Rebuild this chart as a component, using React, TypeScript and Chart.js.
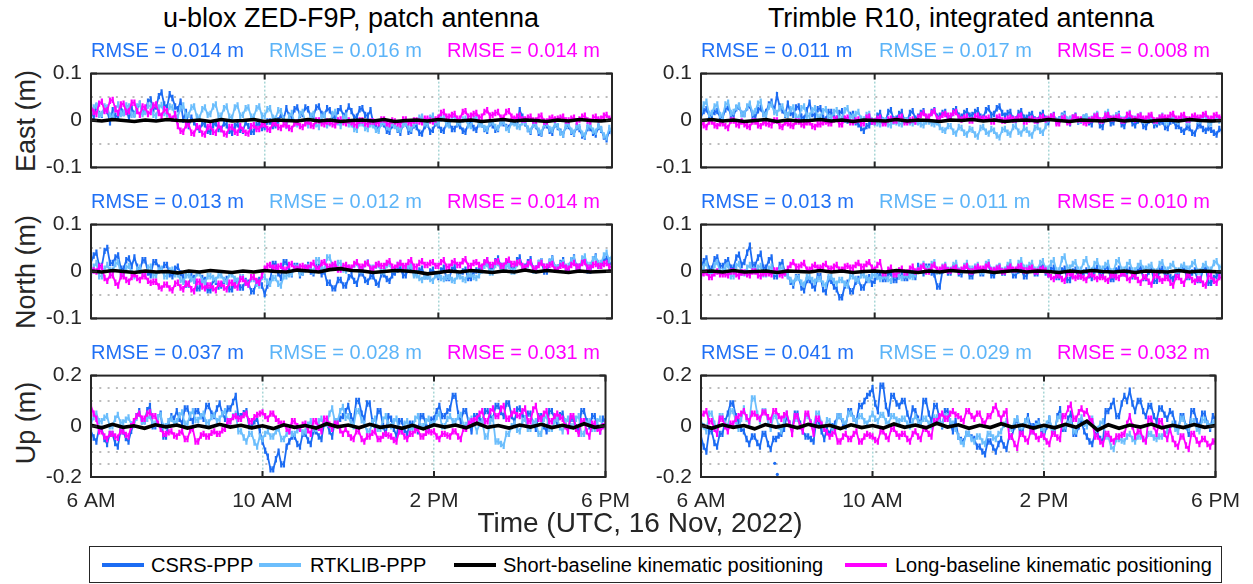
import React, { useEffect, useRef } from "react";
import { Chart, registerables } from "chart.js";

Chart.register(...registerables);

// ---------- axis ticks / labels ----------
const HOUR_TICKS = [6, 10, 14, 18];
const HOUR_LABELS = ["6 AM", "10 AM", "2 PM", "6 PM"];
const EN_TICKS = [-0.1, -0.05, 0, 0.05, 0.1];
const EN_LABELS = ["-0.1", "", "0", "", "0.1"];
const EN_GRID = [false, true, false, true, false];
const UP_TICKS = [-0.2, -0.15, -0.1, 0, 0.1, 0.15, 0.2];
const UP_LABELS = ["-0.2", "", "", "0", "", "", "0.2"];
const UP_GRID = [false, true, true, false, true, true, false];

const ROW_LABELS = ["East (m)", "North (m)", "Up (m)"];
const TITLES = ["u-blox ZED-F9P, patch antenna", "Trimble R10, integrated antenna"];
const SERIES_NAMES = ["CSRS-PPP", "RTKLIB-PPP", "Short-baseline kinematic positioning", "Long-baseline kinematic positioning"];
const X_TITLE = "Time (UTC, 16 Nov, 2022)";
const RMSE_ZED = [[0.014, 0.016, 0.014], [0.013, 0.012, 0.014], [0.037, 0.028, 0.031]];
const RMSE_R10 = [[0.011, 0.017, 0.008], [0.013, 0.011, 0.010], [0.041, 0.029, 0.032]];

// ---------- data (mm); coloured series every 3.75 min from 6 AM to 6 PM (16 per hour), short-baseline every 15 min ----------
// u-blox ZED-F9P  East
const zedEastCsrs = [
  18,8,30,14,12,26,20,-4,22,10,8,28,16,24,4,26,
  14,26,36,18,20,40,45,24,30,52,60,34,28,56,48,30,
  24,40,2,18,-12,6,-4,-14,-20,-6,-8,-22,-24,-10,-6,-18,
  -18,-6,-10,-22,-26,-12,-8,-20,-22,-4,-12,-24,-24,-10,-6,-16,
  -14,-2,-2,-12,-10,0,12,4,26,10,8,24,28,12,14,28,
  24,8,10,28,30,14,12,26,22,8,6,20,26,10,16,30,
  20,6,8,24,26,12,10,22,-4,-14,-18,-6,-8,-22,-24,-10,
  -10,-20,-26,-8,-6,-24,-22,-10,-14,-26,-28,-12,-8,-24,-20,-6,
  -10,-20,-22,-6,-6,-18,-18,-8,-12,-22,-24,-8,-4,-16,-20,-6,
  -8,-18,-22,-6,-10,-20,-18,-4,-6,-14,-16,-2,-2,-12,22,8,
  -6,-18,-24,-8,-12,-26,-28,-10,-10,-22,-26,-8,-14,-24,-30,-12,
  -12,-24,-28,-14,-18,-32,-34,-16,-16,-26,-30,-14,-20,-34,-40,-22,
  -24];
const zedEastRtk = [
  10,28,32,12,14,30,28,10,8,26,34,14,16,32,30,12,
  12,30,35,14,18,32,30,12,10,28,33,16,14,30,28,12,
  8,26,32,10,12,28,30,8,6,24,28,12,14,30,34,10,
  10,26,30,8,6,28,32,10,12,26,28,8,8,26,30,10,
  10,24,26,6,4,22,20,2,-12,8,16,-6,-8,14,18,-4,
  -10,10,14,-8,-14,8,12,-10,-6,14,18,-4,-12,6,10,-8,
  -8,-18,-20,-6,-6,-16,-18,-8,-10,-20,-22,-6,-4,-14,-16,-6,
  -12,-18,-20,-8,-6,-16,-18,-8,-2,6,8,-6,-8,6,10,-4,
  -6,4,6,-8,-10,6,8,-6,-4,2,4,-10,-12,4,6,-8,
  -8,-16,-18,-4,-4,-14,-16,-6,-2,-16,-20,-4,-6,-12,-14,-4,
  -4,-18,-22,-8,-10,-22,-26,-8,-6,-18,-20,-8,-12,-26,-30,-10,
  -8,-22,-26,-12,-14,-28,-32,-12,-10,-22,-24,-12,-18,-32,-36,-16,
  -26];
const zedEastShort = [1,-1,2,0,-2,1,-1,2,0,-1,1,-2,2,-1,0,2,-2,1,0,-1,2,-1,1,-2,0,1,-1,2,-2,0,1,-1,2,0,-1,1,-2,0,2,-1,1,0,-2,1,-1,2,0,-1,1];
const zedEastLong = [
  30,18,14,36,40,20,22,42,44,24,16,34,36,18,20,38,
  38,20,12,30,28,14,18,32,34,16,10,24,20,8,4,14,
  -12,-22,-24,-10,-8,-26,-28,-12,-16,-28,-30,-14,-12,-24,-26,-10,
  -18,-28,-30,-14,-14,-24,-26,-12,-20,-26,-28,-12,-10,-18,-18,-8,
  -8,-18,-20,-6,-6,-14,-16,-8,-10,-16,-18,-6,-4,-12,-14,-6,
  -2,-10,-12,0,0,-6,-8,-2,-4,-8,-10,0,2,-4,-6,0,
  -4,-8,-10,0,0,-6,-8,-2,-2,-4,-6,2,2,-6,-8,0,
  -2,-6,-8,2,2,-4,-6,0,0,-2,-4,4,4,0,-2,2,
  6,16,18,8,8,12,14,4,4,18,20,8,10,14,16,6,
  8,18,22,10,12,16,18,6,6,18,20,8,4,8,10,2,
  2,6,8,0,0,8,10,-2,-2,4,6,2,4,6,8,0,
  0,4,6,-2,2,8,10,0,-2,6,8,2,4,10,12,4,
  6];

// Trimble R10  East
const r10EastCsrs = [
  8,20,24,10,12,18,20,8,6,24,28,12,10,26,30,14,
  14,28,32,10,8,22,26,14,18,34,40,22,54,30,22,12,
  36,16,12,28,30,8,4,22,38,14,10,24,26,6,2,18,
  18,6,4,16,20,2,0,12,14,-4,-8,-16,-22,-12,-10,-2,
  -4,10,16,0,-2,18,22,2,4,14,18,0,0,16,20,4,
  8,16,20,6,6,18,22,8,10,16,18,4,4,20,24,10,
  8,16,20,10,12,18,22,8,6,22,26,12,14,26,30,16,
  10,16,18,4,2,16,20,6,6,12,14,2,0,12,16,4,
  -4,8,12,-2,2,10,14,0,-6,6,10,-2,0,6,8,-4,
  -8,8,12,-10,-14,6,10,-6,-4,10,14,-8,-12,4,6,-6,
  -10,0,4,-12,-14,0,2,-10,-8,-4,-2,-14,-16,-2,0,-12,
  -12,-20,-24,-14,-16,-26,-28,-12,-10,-18,-22,-16,-20,-26,-30,-18,
  -22];
const r10EastRtk = [
  12,34,40,14,16,30,34,12,10,34,38,16,18,28,32,14,
  14,30,36,16,20,36,40,14,12,30,34,18,16,26,30,14,
  12,24,28,8,6,26,30,10,10,22,26,8,8,20,24,6,
  6,18,22,4,4,22,26,6,8,14,18,4,2,12,14,0,
  -2,-6,-8,0,0,-8,-10,-2,-4,-6,-8,0,0,-4,-6,-2,
  -4,-8,-10,-2,-2,-6,-8,-4,-14,-20,-22,-12,-12,-24,-28,-14,
  -16,-26,-30,-18,-20,-30,-34,-16,-14,-24,-28,-18,-22,-32,-36,-20,
  -18,-26,-30,-14,-12,-24,-28,-16,-20,-28,-32,-16,-14,-22,-26,-12,
  2,6,8,0,0,8,10,2,4,4,6,0,0,6,8,2,
  4,10,14,0,0,14,18,4,6,10,12,2,2,12,16,4,
  4,8,12,0,0,6,8,-2,-2,6,10,-4,-4,4,6,0,
  -2,6,8,-4,-4,4,6,0,0,8,10,-6,-6,2,4,0,
  2];
const r10EastShort = [0,2,-1,1,-2,0,2,-2,1,-1,0,2,-1,1,-2,1,0,-1,2,-1,1,0,-2,1,0,2,-1,1,-2,0,1,-1,2,0,-2,1,0,-1,2,-1,1,-2,0,1,-1,2,0,-1,0];
const r10EastLong = [
  -4,-10,-14,-2,-2,-10,-12,-6,-6,-12,-16,0,0,-8,-10,-2,
  -8,-12,-14,-2,-2,-10,-12,-4,-6,-8,-10,0,0,-12,-14,-4,
  -6,-10,-12,-2,-2,-8,-10,-4,-4,-12,-14,-8,-8,-4,-2,-6,
  -6,2,4,-8,-8,4,6,-4,-4,0,2,-6,-6,6,8,-2,
  -2,4,6,-6,-6,2,4,0,0,6,8,-4,-4,0,2,-2,
  6,12,16,8,8,16,20,4,4,12,14,10,10,16,18,6,
  2,6,8,0,0,8,10,4,4,4,6,-2,-2,6,8,0,
  0,4,6,2,2,8,10,-2,-2,2,4,0,0,6,8,2,
  4,8,10,-6,-6,4,6,-4,-4,6,8,2,2,-4,-6,0,
  2,8,10,0,0,10,12,4,4,6,8,0,0,12,14,4,
  2,8,10,4,4,10,12,0,0,6,8,6,6,12,14,4,
  4,10,12,2,2,8,10,6,6,12,14,4,4,10,12,6,
  8];

// u-blox ZED-F9P  North
const zedNorthCsrs = [
  20,34,40,12,12,44,50,18,18,30,34,6,6,24,28,12,
  30,10,2,24,24,-2,-8,20,20,8,4,14,14,-6,-10,6,
  10,-4,-12,-28,-28,-10,-14,-36,-36,-14,-18,-40,-40,-18,-22,-32,
  -30,-20,-16,-38,-38,-22,-20,-34,-34,-20,-24,-42,-42,-22,-18,-30,
  -48,-30,-20,16,16,-4,-14,20,20,2,-6,12,12,-8,-2,8,
  14,0,-4,10,10,-6,0,-24,-24,-36,-36,-18,-18,-30,-30,-12,
  -8,-20,-26,-4,-4,-18,-22,-10,-10,-24,-28,-6,-6,-16,-20,-8,
  -2,4,8,-8,-8,6,10,-4,-4,2,6,-10,-10,0,4,-6,
  -12,2,8,-14,-14,4,10,-6,-6,0,4,-14,-14,-2,2,4,
  8,18,24,6,6,22,28,12,12,18,22,4,4,24,30,10,
  10,20,26,6,6,18,22,0,0,20,28,8,8,18,24,6,
  4,24,30,10,10,20,26,2,2,26,32,12,12,22,28,14,
  20];
const zedNorthRtk = [
  -8,10,18,-10,-10,6,14,2,2,16,20,-6,-6,8,12,-2,
  -10,4,8,-4,-4,8,10,-8,-8,2,6,-10,-10,2,4,-6,
  -6,-18,-22,-8,-8,-16,-20,-4,-4,-20,-24,-10,-10,-14,-18,-8,
  -8,-18,-22,-6,-6,-16,-20,-12,-12,-24,-28,-16,-16,-26,-30,-12,
  -12,-22,-26,-14,-14,-26,-30,-10,-10,-6,-4,8,8,-4,-2,4,
  10,4,0,24,24,8,4,30,30,12,8,18,18,4,2,8,
  6,14,18,2,2,16,20,8,8,12,14,0,0,14,16,4,
  4,14,18,8,8,10,12,-8,-8,-14,-18,-10,-10,-16,-20,-8,
  -8,-14,-16,-12,-12,-18,-20,-10,-10,-16,-18,-6,-6,-12,-14,-8,
  2,12,16,-2,-2,14,18,4,4,10,12,0,0,16,20,6,
  6,14,18,2,2,18,22,10,10,22,26,8,8,16,20,10,
  12,24,28,6,6,28,32,14,14,26,30,18,18,34,40,24,
  34];
const zedNorthShort = [1,-1,2,0,-2,1,-1,0,-3,1,-1,2,0,-2,1,-1,2,0,-1,3,1,-1,4,6,2,1,-2,0,2,1,-1,-5,-2,1,-1,2,0,-2,1,-1,3,-1,2,0,-2,1,-1,0,1];
const zedNorthLong = [
  6,2,0,10,10,-14,-20,-8,-8,-24,-30,-10,-10,-18,-22,-12,
  -6,-14,-18,-10,-10,-20,-24,-22,-22,-32,-36,-28,-28,-36,-40,-26,
  -24,-34,-38,-26,-26,-38,-42,-22,-22,-32,-36,-30,-30,-36,-40,-26,
  -26,-34,-38,-24,-24,-30,-34,-16,-16,-24,-28,-12,-12,-20,-24,-8,
  6,12,14,8,8,10,12,4,4,14,16,6,6,10,12,8,
  8,14,18,6,6,18,20,10,10,14,16,4,4,12,14,8,
  8,16,20,10,10,16,18,6,6,14,16,12,12,18,22,10,
  8,14,18,12,12,20,24,10,10,18,22,14,14,18,20,12,
  12,20,24,10,10,18,22,14,14,22,26,12,12,18,20,14,
  10,20,24,14,14,20,22,12,12,22,25,16,16,18,20,12,
  8,16,20,6,6,14,18,10,10,14,16,4,4,12,14,8,
  6,14,18,10,10,18,20,8,8,14,16,12,12,16,18,10,
  10];

// Trimble R10  North
const r10NorthCsrs = [
  10,22,28,6,6,26,30,12,12,20,24,8,8,30,36,14,
  20,40,55,14,14,30,38,8,8,24,30,-10,-10,14,20,-4,
  -8,-22,-30,-12,-12,-34,-40,-18,-18,-30,-36,-10,-10,-38,-44,-16,
  -20,-32,-38,-55,-55,-30,-24,-42,-42,-22,-16,-34,-34,-18,-12,-26,
  -20,-10,-6,-16,-16,-6,-4,-18,-18,-10,-8,-14,-14,-4,-2,-12,
  12,2,-4,10,10,-2,-6,-32,-32,2,8,-2,-2,8,14,-4,
  -6,6,12,-10,-10,4,8,-4,-4,10,14,-8,-8,4,10,-2,
  -2,8,12,-8,-8,2,6,-10,-10,6,10,-4,-4,8,14,-2,
  -6,4,8,-12,-12,2,6,-18,-18,0,4,-10,-10,-2,2,-8,
  -14,2,8,-8,-8,6,10,-16,-16,2,6,-4,-4,0,4,-10,
  -10,2,8,-14,-14,0,4,-20,-20,2,6,-8,-8,-12,-16,-4,
  -6,6,10,-12,-12,-2,2,-18,-18,4,8,-24,-24,-14,-10,-4,
  0];
const r10NorthRtk = [
  -8,10,18,-4,-4,14,20,0,0,10,14,-10,-10,12,16,-2,
  -4,8,14,2,2,8,12,-6,-6,6,10,0,0,6,8,-4,
  -10,-18,-24,-14,-14,-24,-28,-12,-12,-18,-22,-16,-16,-26,-30,-12,
  -12,-20,-26,-18,-18,-26,-30,-10,-10,-16,-20,-8,-8,-14,-18,-10,
  -6,-12,-16,-10,-10,-16,-20,-4,-4,-10,-14,-8,-8,-10,-12,-6,
  2,10,16,6,6,16,20,0,0,10,14,4,4,14,18,2,
  2,12,18,6,6,10,14,0,0,16,20,4,4,8,12,2,
  4,14,20,2,2,18,24,8,8,14,18,4,4,18,22,6,
  6,18,24,2,2,26,32,8,8,16,20,4,4,20,26,6,
  2,16,22,6,6,14,18,0,0,20,24,4,4,14,20,2,
  2,12,18,6,6,10,14,0,0,16,20,4,4,12,16,2,
  2,10,14,6,6,16,20,0,0,12,16,4,4,18,22,8,
  12];
const r10NorthShort = [0,1,-1,2,-1,0,1,-2,1,0,-1,2,-1,1,-2,0,1,-1,2,0,-2,1,-1,2,0,-1,1,-2,0,2,-1,1,0,-2,1,-1,2,0,-1,1,-2,1,0,-1,2,-1,1,0,-1];
const r10NorthLong = [
  -10,-4,-2,-12,-12,-4,0,-6,-6,-6,-8,0,0,-6,-10,-2,
  -2,-6,-8,0,0,-8,-10,-4,-4,-4,-6,2,2,-6,-8,-2,
  6,14,20,10,10,14,18,4,4,10,14,8,8,12,16,6,
  6,10,14,4,4,10,12,8,8,14,18,10,10,16,20,8,
  4,14,20,-4,-4,4,8,-6,-6,2,6,-2,-2,6,10,0,
  2,8,12,0,0,10,14,4,4,8,10,2,2,6,8,0,
  4,8,12,0,0,6,10,6,6,10,14,2,2,6,8,0,
  0,6,10,4,4,10,12,2,2,6,8,0,0,4,6,2,
  -6,-12,-16,-8,-8,-16,-20,-4,-4,-10,-14,-10,-10,-14,-18,-6,
  -6,-12,-16,-12,-12,-16,-20,-8,-8,-12,-14,-4,-4,-14,-18,-6,
  -10,-18,-24,-12,-12,-22,-28,-8,-8,-16,-20,-14,-14,-24,-30,-12,
  -12,-20,-26,-8,-8,-18,-22,-16,-16,-26,-30,-10,-10,-20,-24,-12,
  -14];

// u-blox ZED-F9P  Up
const zedUpCsrs = [
  -20,-44,-60,-10,-10,-50,-70,-30,-30,-66,-80,-20,-20,-46,-60,-18,
  10,40,60,20,20,64,80,0,0,36,50,-40,-40,20,40,30,
  60,30,10,70,70,34,20,60,60,40,30,80,80,50,40,70,
  90,50,30,70,70,96,120,40,40,52,60,0,0,20,30,-20,
  -60,-96,-120,-170,-170,-130,-100,-150,-150,-80,-60,-40,-40,-70,-80,-30,
  -30,-56,-70,-20,-20,-40,-50,10,10,-20,-40,20,20,30,40,60,
  80,40,20,100,100,50,30,90,90,20,-10,60,60,0,-30,40,
  30,-10,-40,20,20,-14,-30,10,10,-6,-20,40,40,10,-10,26,
  30,60,80,40,40,60,70,120,120,50,20,60,60,10,-20,40,
  40,30,20,60,60,40,30,80,80,56,40,90,90,40,20,66,
  70,46,30,50,50,10,-10,40,40,0,-20,60,60,30,10,44,
  50,10,-10,30,30,-4,-20,60,60,20,0,40,40,-4,-20,30,
  20];
const zedUpRtk = [
  10,36,50,20,20,34,40,0,0,30,45,15,15,26,35,8,
  5,34,50,20,20,30,40,10,10,36,45,0,0,20,30,12,
  20,44,55,10,10,46,60,25,25,40,50,15,15,36,45,20,
  30,48,60,20,20,40,50,-20,-20,-44,-60,-30,-30,-64,-80,-40,
  -50,-30,-20,-40,-40,-20,-10,-50,-50,-30,-20,-30,-30,-16,-10,-24,
  -20,6,20,-10,-10,20,30,10,10,50,70,20,20,60,76,34,
  40,14,0,60,60,24,10,-20,-20,16,30,-10,-10,26,40,6,
  0,20,30,-20,-20,10,20,-10,-10,30,40,0,0,20,30,8,
  10,36,50,0,0,30,40,20,20,36,45,5,5,22,30,12,
  -20,10,20,-40,-40,20,30,-60,-60,-70,-77,-30,-30,0,10,-14,
  -20,20,30,-10,-10,14,20,-30,-30,30,40,-10,-10,20,30,-4,
  -20,20,30,0,0,30,40,-30,-30,10,20,-10,-10,20,30,2,
  0];
const zedUpShort = [4,-6,8,-4,2,-8,6,-2,5,-7,3,-5,8,-3,4,-6,2,-9,6,-4,3,-7,10,-2,5,-6,8,-4,2,-8,4,-10,6,-3,5,-6,12,-4,3,-7,5,-3,8,-5,4,-6,10,-4,3];
const zedUpLong = [
  80,50,30,-20,-20,-40,-50,-30,-30,-40,-45,-20,-20,-34,-40,0,
  20,40,50,30,30,50,55,40,40,10,-10,-30,-30,-24,-20,-36,
  -40,-26,-20,-50,-50,-16,-10,-60,-60,-36,-30,-40,-40,-26,-20,-30,
  -30,-16,-10,20,20,36,40,30,30,44,50,20,20,36,45,50,
  55,40,30,50,50,30,20,10,10,-10,-20,20,20,0,-10,6,
  10,-16,-30,20,20,-6,-20,30,30,6,-10,10,10,-16,-30,-10,
  -30,-44,-50,-20,-20,-50,-60,-40,-40,-26,-20,-50,-50,-36,-30,-36,
  -40,-54,-60,-20,-20,-40,-50,-30,-30,-16,-10,-40,-40,-26,-20,-24,
  -20,-40,-50,-30,-30,-36,-40,-20,-20,-40,-50,-10,-10,10,20,24,
  30,50,60,20,20,60,70,40,40,70,80,30,30,50,60,44,
  40,60,70,20,20,66,80,30,30,50,60,20,20,40,50,36,
  30,0,-20,40,40,-10,-30,20,20,-20,-40,10,10,-10,-20,0,
  10];

// Trimble R10  Up
const r10UpCsrs = [
  -40,-80,-100,-20,-20,-66,-80,-30,-30,20,50,90,90,40,20,-10,
  -20,-50,-70,-40,-40,-66,-80,-30,-30,-70,-90,-50,-50,-36,-30,-10,
  40,10,-10,50,50,10,-20,-40,-40,-50,-60,20,20,-20,-50,-10,
  -30,0,10,40,40,10,0,60,60,30,20,80,80,100,120,130,
  150,90,60,160,160,80,50,120,120,90,80,100,100,50,20,70,
  60,30,10,100,100,50,20,80,80,30,0,60,60,10,-20,20,
  -40,-54,-60,-30,-30,-44,-50,-80,-80,-100,-110,-60,-60,-84,-100,-70,
  -50,-76,-90,-40,-40,0,30,-20,-20,20,40,0,0,10,20,-10,
  -40,0,30,-20,-20,40,67,-10,-10,30,50,-30,-30,0,20,-20,
  -40,-60,-70,-30,-30,-50,-60,60,60,80,100,40,40,90,120,100,
  140,90,60,100,100,60,40,80,80,40,20,70,70,46,30,60,
  50,10,-20,40,40,0,-30,60,60,20,0,50,50,10,-10,40,
  30];
const r10UpCsrsOutlierHours = [7.72, 7.78];
const r10UpCsrsOutlierValues = [-146, -190];
const r10UpRtk = [
  20,0,-20,50,50,10,-10,40,40,10,0,60,60,20,-10,30,
  70,30,10,110,110,50,20,60,60,20,-10,40,40,0,-20,20,
  50,10,-10,30,30,0,-20,40,40,16,0,50,50,10,-10,24,
  20,-6,-20,40,40,20,10,50,50,30,20,40,40,20,10,30,
  50,30,20,45,45,20,10,40,40,26,20,30,30,10,0,20,
  40,20,10,30,30,10,0,35,35,16,5,40,40,20,10,-10,
  -40,-60,-70,-30,-30,-50,-60,-40,-40,-60,-70,-30,-30,-44,-50,-30,
  -20,6,20,-10,-10,20,30,0,0,20,25,-20,-20,0,10,-6,
  -20,10,30,-10,-10,30,40,0,0,10,20,-20,-20,20,35,10,
  0,20,30,-10,-10,10,20,-40,-40,-80,-90,-50,-50,-56,-60,-40,
  -30,-50,-60,-40,-40,-50,-55,-30,-30,-44,-50,-40,-40,-30,-20,-10,
  10,-10,-20,30,30,0,-10,20,20,-10,-20,25,25,10,0,14,
  10];
const r10UpShort = [5,-8,6,-4,3,-10,7,-3,5,-6,8,-2,4,-9,6,-5,3,-7,9,-4,5,-6,12,-3,6,-8,4,-5,10,-3,5,-7,4,-6,8,-4,20,-15,6,-8,5,-3,9,-6,4,-5,7,-4,3];
const r10UpLong = [
  40,50,60,20,20,-10,-30,30,30,0,-20,10,10,30,40,50,
  60,36,20,50,50,36,30,55,55,36,25,60,60,40,30,44,
  50,10,-30,40,40,0,-20,50,50,10,-30,30,30,6,-10,-24,
  -40,-30,-20,-60,-60,-40,-30,-50,-50,-30,-20,-60,-60,-40,-30,-36,
  -40,-54,-60,-20,-20,-40,-50,-10,-10,-30,-40,-30,-30,-50,-60,-30,
  -20,-40,-50,-10,-10,-30,-40,20,20,40,50,30,30,50,60,46,
  40,30,20,60,60,40,30,50,50,20,10,40,40,66,80,50,
  30,50,60,-40,-40,-70,-85,-30,-30,-50,-60,-20,-20,-40,-50,-34,
  -40,-60,-70,-30,-30,-44,-50,40,40,70,85,30,30,56,70,50,
  60,30,20,-40,-40,-60,-70,-30,-30,-50,-60,-40,-40,-34,-30,10,
  40,0,-40,-20,-20,-50,-60,30,30,0,-30,20,20,-30,-50,-10,
  -50,-70,-80,-40,-40,-76,-90,-30,-30,-56,-70,-50,-50,-70,-80,-60,
  -60];

// ---------- styling ----------
const FONT = '"Liberation Sans", Arial, Helvetica, sans-serif';
const AXIS_COLOR = "#262626";
const BLUE = "rgb(28,108,243)";
const LIGHT = "rgb(108,190,252)";
const MAGENTA = "rgb(255,0,255)";
const BLACK = "#000000";
const RMSE_COLORS = ["rgb(32,112,245)", "rgb(92,180,248)", "rgb(255,0,255)"];

const PLOT_W = 521;
const PLOT_H = 109;
const COL_LEFT = [91, 701];
const ROW_TOP = [66, 217, 368];
const Y_AXIS_W = 70;
const PAD_T = 14;
const PAD_R = 30;
const X_AXIS_H = 44;

type PanelProps = {
  left: number;
  top: number;
  bottom: boolean;
  up: boolean;
  csrs: number[];
  rtk: number[];
  shortB: number[];
  longB: number[];
  outH?: number[];
  outV?: number[];
};

const toPoints = (vals: number[]) =>
  vals.map((v, i) => ({ x: 6 + (12 * i) / (vals.length - 1), y: v / 1000 }));

function Panel(p: PanelProps) {
  const ref = useRef<HTMLCanvasElement | null>(null);
  const cw = Y_AXIS_W + PLOT_W + PAD_R;
  const ch = PAD_T + PLOT_H + (p.bottom ? X_AXIS_H : PAD_T);

  useEffect(() => {
    if (!ref.current) return;
    const yTicks = p.up ? UP_TICKS : EN_TICKS;
    const yLabels = p.up ? UP_LABELS : EN_LABELS;
    const yGrid = p.up ? UP_GRID : EN_GRID;
    // coloured series: thin noisy trace + short vertical marks at every epoch (dense-scatter look)
    const mk = (vals: number[], color: string, order: number) => ({
      data: toPoints(vals),
      borderColor: color,
      backgroundColor: color,
      pointBorderColor: color,
      pointBackgroundColor: color,
      borderWidth: 1.8,
      pointStyle: "line",
      pointRotation: 90,
      pointRadius: 3.2,
      pointBorderWidth: 2.2,
      pointHoverRadius: 0,
      tension: 0,
      fill: false,
      order,
    });
    const datasets: any[] = [
      {
        data: toPoints(p.shortB),
        borderColor: BLACK,
        borderWidth: 3.6,
        pointRadius: 0,
        tension: 0,
        fill: false,
        order: 0,
      },
      mk(p.longB, MAGENTA, 1),
      mk(p.rtk, LIGHT, 2),
      mk(p.csrs, BLUE, 3),
    ];
    if (p.outH && p.outV) {
      datasets.push({
        data: p.outH.map((h, i) => ({ x: h, y: p.outV![i] / 1000 })),
        showLine: false,
        pointRadius: 1.6,
        pointBorderWidth: 0,
        pointBackgroundColor: BLUE,
        borderColor: BLUE,
        order: 4,
      });
    }
    const boxPlugin = {
      id: "boxPlugin",
      afterDraw(chart: any) {
        const { ctx, chartArea: a, scales } = chart;
        ctx.save();
        ctx.strokeStyle = AXIS_COLOR;
        ctx.lineWidth = 2;
        ctx.beginPath();
        for (const v of HOUR_TICKS) {
          const x = scales.x.getPixelForValue(v);
          ctx.moveTo(x, a.top);
          ctx.lineTo(x, a.top + 6);
          ctx.moveTo(x, a.bottom);
          ctx.lineTo(x, a.bottom - 6);
        }
        yTicks.forEach((v, i) => {
          if (!yLabels[i]) return;
          const y = scales.y.getPixelForValue(v);
          ctx.moveTo(a.left, y);
          ctx.lineTo(a.left + 6, y);
          ctx.moveTo(a.right, y);
          ctx.lineTo(a.right - 6, y);
        });
        ctx.stroke();
        ctx.strokeRect(a.left, a.top, a.right - a.left, a.bottom - a.top);
        ctx.restore();
      },
    };
    const chart = new Chart(ref.current, {
      type: "line",
      data: { datasets },
      plugins: [boxPlugin],
      options: {
        animation: false,
        responsive: false,
        maintainAspectRatio: false,
        events: [],
        layout: { padding: { left: 0, right: PAD_R, top: PAD_T, bottom: p.bottom ? 0 : PAD_T } },
        plugins: { legend: { display: false }, tooltip: { enabled: false } },
        scales: {
          x: {
            type: "linear",
            min: 6,
            max: 18,
            afterBuildTicks: (s: any) => {
              s.ticks = HOUR_TICKS.map((v) => ({ value: v }));
            },
            afterFit: (s: any) => {
              s.height = p.bottom ? X_AXIS_H : 0;
            },
            ticks: {
              display: p.bottom,
              autoSkip: false,
              maxRotation: 0,
              padding: 12,
              color: AXIS_COLOR,
              font: { family: FONT, size: 21 },
              callback: (_v: any, i: number) => HOUR_LABELS[i],
            },
            grid: {
              drawTicks: false,
              lineWidth: 1.5,
              color: (c: any) =>
                c.index === 0 || c.index === HOUR_TICKS.length - 1 ? "rgba(0,0,0,0)" : "rgb(168,214,214)",
            },
            border: { display: false, dash: [2, 2] },
          },
          y: {
            type: "linear",
            min: yTicks[0],
            max: yTicks[yTicks.length - 1],
            afterBuildTicks: (s: any) => {
              s.ticks = yTicks.map((v) => ({ value: v }));
            },
            afterFit: (s: any) => {
              s.width = Y_AXIS_W;
            },
            ticks: {
              autoSkip: false,
              padding: 9,
              color: AXIS_COLOR,
              font: { family: FONT, size: 21 },
              callback: (_v: any, i: number) => yLabels[i],
            },
            grid: {
              drawTicks: false,
              lineWidth: 2,
              color: (c: any) => (yGrid[c.index] ? "rgb(188,188,188)" : "rgba(0,0,0,0)"),
            },
            border: { display: false, dash: [2, 6.3] },
          },
        },
      } as any,
    });
    return () => chart.destroy();
  }, []);

  return (
    <canvas
      ref={ref}
      width={cw}
      height={ch}
      style={{ position: "absolute", left: p.left - Y_AXIS_W, top: p.top - PAD_T, width: cw, height: ch }}
    />
  );
}

const PANEL_DATA = [
  [
    { csrs: zedEastCsrs, rtk: zedEastRtk, shortB: zedEastShort, longB: zedEastLong },
    { csrs: zedNorthCsrs, rtk: zedNorthRtk, shortB: zedNorthShort, longB: zedNorthLong },
    { csrs: zedUpCsrs, rtk: zedUpRtk, shortB: zedUpShort, longB: zedUpLong },
  ],
  [
    { csrs: r10EastCsrs, rtk: r10EastRtk, shortB: r10EastShort, longB: r10EastLong },
    { csrs: r10NorthCsrs, rtk: r10NorthRtk, shortB: r10NorthShort, longB: r10NorthLong },
    { csrs: r10UpCsrs, rtk: r10UpRtk, shortB: r10UpShort, longB: r10UpLong, outH: r10UpCsrsOutlierHours, outV: r10UpCsrsOutlierValues },
  ],
];

const LEGEND_ITEMS = [
  { sw: 102, tx: 151, color: BLUE },
  { sw: 259, tx: 310, color: LIGHT },
  { sw: 454, tx: 503, color: BLACK },
  { sw: 845, tx: 895, color: MAGENTA },
];

export default function App() {
  const rmse = [RMSE_ZED, RMSE_R10];
  const titleCx = [351, 961];
  return (
    <div
      style={{
        position: "absolute",
        left: 0,
        top: 0,
        width: 1253,
        height: 584,
        overflow: "hidden",
        background: "#ffffff",
        fontFamily: FONT,
      }}
    >
      {TITLES.map((t, c) => (
        <div
          key={t}
          style={{
            position: "absolute",
            left: titleCx[c] - 320,
            width: 640,
            top: 5,
            textAlign: "center",
            fontSize: 27,
            lineHeight: "27px",
            color: "#000",
            whiteSpace: "nowrap",
          }}
        >
          {t}
        </div>
      ))}
      {ROW_LABELS.map((t, r) => (
        <div
          key={t}
          style={{
            position: "absolute",
            left: 26 - 100,
            top: ROW_TOP[r] + PLOT_H / 2 - 15,
            width: 200,
            height: 30,
            lineHeight: "30px",
            textAlign: "center",
            fontSize: 27,
            color: AXIS_COLOR,
            transform: "rotate(-90deg)",
            whiteSpace: "nowrap",
          }}
        >
          {t}
        </div>
      ))}
      {PANEL_DATA.map((col, c) =>
        col.map((d, r) => (
          <Panel
            key={`${c}-${r}`}
            left={COL_LEFT[c]}
            top={ROW_TOP[r]}
            bottom={r === 2}
            up={r === 2}
            {...d}
          />
        ))
      )}
      {rmse.map((grid, c) =>
        grid.map((vals, r) =>
          vals.map((v, k) => (
            <div
              key={`${c}-${r}-${k}`}
              style={{
                position: "absolute",
                left: COL_LEFT[c] + k * 178,
                top: ROW_TOP[r] - 8.5 - 18,
                fontSize: 20,
                lineHeight: "20px",
                color: RMSE_COLORS[k],
                whiteSpace: "nowrap",
              }}
            >
              {`RMSE = ${v.toFixed(3)} m`}
            </div>
          ))
        )
      )}
      <div
        style={{
          position: "absolute",
          left: 640 - 300,
          width: 600,
          top: 509,
          textAlign: "center",
          fontSize: 28,
          lineHeight: "28px",
          color: AXIS_COLOR,
          whiteSpace: "nowrap",
        }}
      >
        {X_TITLE}
      </div>
      <div
        style={{
          position: "absolute",
          left: 89,
          top: 546,
          width: 1133,
          height: 37,
          border: `1.5px solid ${AXIS_COLOR}`,
          boxSizing: "border-box",
          background: "#fff",
        }}
      />
      {LEGEND_ITEMS.map((it, i) => (
        <React.Fragment key={SERIES_NAMES[i]}>
          <div
            style={{ position: "absolute", left: it.sw, top: 562.5, width: 42, height: 4, background: it.color }}
          />
          <div
            style={{
              position: "absolute",
              left: it.tx,
              top: 554.5,
              fontSize: 20,
              lineHeight: "20px",
              color: "#000",
              whiteSpace: "nowrap",
            }}
          >
            {SERIES_NAMES[i]}
          </div>
        </React.Fragment>
      ))}
    </div>
  );
}
